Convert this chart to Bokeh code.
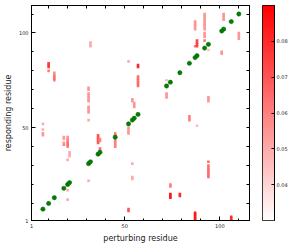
import numpy as np
from bokeh.plotting import figure
from bokeh.models import LinearAxis, FixedTicker, LinearColorMapper, Range1d, ColumnDataSource
from bokeh.layouts import row
from bokeh.embed import file_html
from bokeh.resources import INLINE

# diagonal (self) residues, drawn in green
green_res = [7, 10, 13, 18, 20, 21, 31, 32, 36, 37, 45, 52, 54, 55, 57,
             72, 74, 79, 84, 87, 88, 92, 94, 101, 102, 106, 110]

# response points: perturbing residue, responding residue, value
red_x = [7, 7, 7, 7,
         10, 10, 10, 10,
         13, 13, 13, 13, 13,
         18, 18, 18, 18,
         20, 20, 20, 20, 20, 20, 20, 20, 20,
         21, 21, 21,
         31, 31, 31, 31, 31, 31, 31, 31, 31, 31, 31, 31, 31,
         32, 32, 32,
         36, 36, 36, 36, 36,
         37, 37, 37, 37,
         45, 45, 45, 45, 45, 45, 45,
         52, 52, 52, 52, 52, 52, 52,
         54, 54, 54, 54, 54,
         55, 55, 55,
         57, 57, 57, 57, 57, 57, 57, 57,
         72, 72, 72, 72,
         74, 74, 74, 74, 74,
         79, 79,
         84, 84, 84,
         87, 87, 87, 87, 87, 87, 87, 87, 87, 87, 87,
         88, 88, 88, 88, 88,
         92, 92, 92, 92, 92, 92, 92, 92, 92, 92, 92, 92, 92,
         94, 94, 94, 94, 94, 94, 94, 94, 94, 94, 94, 94,
         101, 101,
         102, 102, 102, 102,
         106, 106, 106,
         110, 110, 110, 110]
red_y = [52, 49, 47, 46,
         80, 82, 83, 84,
         75, 76, 77, 78, 79,
         41, 42, 44, 45,
         40, 41, 42, 43, 44, 45, 33, 17, 12,
         35, 36, 37,
         71, 70, 68, 67, 66, 65, 64, 61, 60, 59, 58, 54, 22,
         93, 94, 95,
         42, 43, 44, 45, 46,
         38, 39, 43, 44,
         40, 41, 42, 43, 44, 46, 47,
         85, 47, 48, 49, 50, 6, 7,
         64, 65, 31, 23, 24,
         61, 62, 63,
         82, 83, 72, 73, 74, 75, 76, 77,
         75, 66, 67, 68,
         20, 19, 13, 14, 15,
         14, 15,
         54, 55, 56,
         102, 103, 104, 105, 106, 93, 1, 2, 3, 4, 5,
         93, 94, 95, 96, 51,
         96, 98, 99, 100, 102, 103, 104, 105, 106, 107, 108, 109, 110,
         91, 64, 65, 66, 24, 25, 26, 27, 28, 29, 30, 32,
         89, 90,
         107, 108, 109, 110,
         1, 2, 3,
         97, 98, 99, 100]
red_v = [0.050, 0.050, 0.055, 0.055,
         0.060, 0.075, 0.080, 0.075,
         0.060, 0.065, 0.065, 0.060, 0.055,
         0.060, 0.055, 0.050, 0.055,
         0.060, 0.065, 0.065, 0.060, 0.060, 0.055, 0.050, 0.050, 0.050,
         0.050, 0.050, 0.050,
         0.055, 0.055, 0.055, 0.055, 0.055, 0.055, 0.055, 0.055, 0.055, 0.055, 0.055, 0.050, 0.050,
         0.050, 0.050, 0.050,
         0.070, 0.070, 0.070, 0.070, 0.070,
         0.065, 0.065, 0.060, 0.060,
         0.060, 0.060, 0.060, 0.060, 0.060, 0.060, 0.060,
         0.050, 0.055, 0.055, 0.055, 0.055, 0.070, 0.070,
         0.055, 0.055, 0.050, 0.050, 0.050,
         0.055, 0.055, 0.055,
         0.080, 0.080, 0.065, 0.065, 0.065, 0.065, 0.065, 0.065,
         0.045, 0.055, 0.055, 0.055,
         0.060, 0.060, 0.085, 0.085, 0.085,
         0.080, 0.080,
         0.060, 0.060, 0.060,
         0.055, 0.055, 0.055, 0.055, 0.055, 0.060, 0.085, 0.085, 0.085, 0.085, 0.085,
         0.075, 0.075, 0.075, 0.075, 0.045,
         0.065, 0.055, 0.055, 0.055, 0.055, 0.055, 0.055, 0.055, 0.055, 0.055, 0.055, 0.055, 0.055,
         0.045, 0.055, 0.055, 0.055, 0.065, 0.065, 0.065, 0.065, 0.065, 0.065, 0.065, 0.065,
         0.055, 0.055,
         0.055, 0.055, 0.055, 0.055,
         0.080, 0.080, 0.080,
         0.055, 0.055, 0.055, 0.055]

x_ticks = [1, 50, 100]
y_ticks = [1, 50, 100]
minor = [10, 20, 30, 40, 50, 60, 70, 80, 90, 100, 110]
cbar_ticks = [0.04, 0.05, 0.06, 0.07, 0.08]
v_low, v_high = 0.03, 0.09

palette = ["#ff%02x%02x" % (255 - i, 255 - i) for i in range(256)]
mapper = LinearColorMapper(palette=palette, low=v_low, high=v_high)

FONT = "DejaVu Sans"

p = figure(width=250, height=245, x_range=Range1d(1, 115.6), y_range=Range1d(1, 114.5),
           output_backend="svg", toolbar_location=None,
           min_border_left=29, min_border_right=1, min_border_top=5, min_border_bottom=22)
p.grid.visible = False
p.outline_line_color = "black"
p.background_fill_color = "white"

rsrc = ColumnDataSource(dict(x=red_x, y=red_y, v=red_v))
p.scatter("x", "y", source=rsrc, marker="square", size=2.6,
          fill_color={"field": "v", "transform": mapper}, line_color=None)
gsrc = ColumnDataSource(dict(x=green_res, y=green_res))
p.scatter("x", "y", source=gsrc, marker="circle", size=4.3,
          fill_color="#007f00", line_color="#006000", line_width=0.5)

def style_axis(ax, ticks):
    ax.ticker = FixedTicker(ticks=ticks, minor_ticks=minor)
    ax.major_tick_in = 4
    ax.major_tick_out = 0
    ax.minor_tick_in = 2
    ax.minor_tick_out = 0
    ax.axis_line_color = "black"
    ax.major_tick_line_color = "black"
    ax.minor_tick_line_color = "black"
    ax.major_label_text_font = FONT
    ax.major_label_text_font_size = "5px"
    ax.major_label_text_color = "#222222"
    ax.major_label_standoff = 3
    ax.axis_label_text_font = FONT
    ax.axis_label_text_font_size = "8px"
    ax.axis_label_text_font_style = "normal"
    ax.axis_label_text_color = "#222222"
    ax.axis_label_standoff = 3

def tick_only_axis(ax):
    # no major ticks (so no labels); all marks drawn as minor ticks
    ax.ticker = FixedTicker(ticks=[], minor_ticks=[1] + minor)
    ax.major_tick_in = 0
    ax.major_tick_out = 0
    ax.minor_tick_in = 3
    ax.minor_tick_out = 0
    ax.axis_line_color = "black"
    ax.minor_tick_line_color = "black"
    ax.major_label_standoff = 0
    ax.axis_label_standoff = 0

style_axis(p.xaxis[0], x_ticks)
p.xaxis[0].axis_label = "perturbing residue"
style_axis(p.yaxis[0], y_ticks)
p.yaxis[0].axis_label = "responding residue"

top = LinearAxis()
tick_only_axis(top)
p.add_layout(top, "above")
right = LinearAxis()
tick_only_axis(right)
p.add_layout(right, "right")

# colour bar as its own narrow figure
cb = figure(width=50, height=245, x_range=Range1d(0, 1), y_range=Range1d(v_low, v_high),
            output_backend="svg", toolbar_location=None,
            y_axis_location="right", x_axis_location=None,
            min_border_left=12, min_border_right=26, min_border_top=5, min_border_bottom=22)
cb.grid.visible = False
cb.outline_line_color = "black"
grad = np.linspace(v_low, v_high, 256).reshape(-1, 1)
cb.image(image=[grad], x=0, y=v_low, dw=1, dh=v_high - v_low, color_mapper=mapper)
ay = cb.yaxis[0]
ay.ticker = FixedTicker(ticks=cbar_ticks)
ay.major_tick_in = 3
ay.major_tick_out = 0
ay.minor_tick_in = 0
ay.minor_tick_out = 0
ay.axis_line_color = "black"
ay.major_label_text_font = FONT
ay.major_label_text_font_size = "5px"
ay.major_label_text_color = "#222222"
ay.major_label_standoff = 2

layout = row(p, cb)
open("out.html", "w").write(file_html(layout, INLINE))
